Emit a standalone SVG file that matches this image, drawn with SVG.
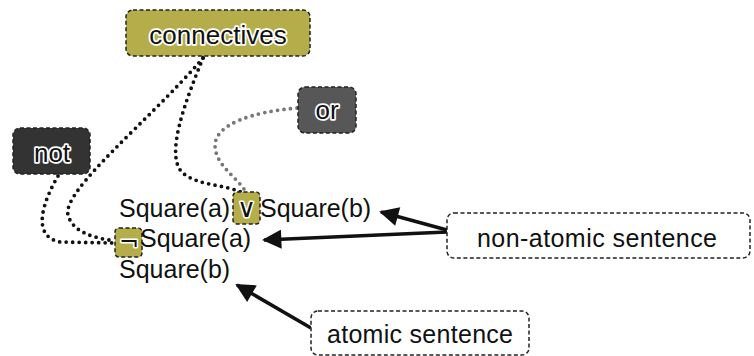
<svg xmlns="http://www.w3.org/2000/svg" width="754" height="356" viewBox="0 0 754 356">
<style>
.box{stroke:#222;stroke-width:1.5;stroke-dasharray:4 2.5}
.olive{fill:#b5ad4a}
.halo{font-family:"Liberation Sans",Arial,sans-serif;font-size:26px;fill:#111;stroke:#fff;stroke-width:3.5;paint-order:stroke;stroke-linejoin:round;text-anchor:middle}
.sym{font-family:"DejaVu Sans",sans-serif;fill:#111;stroke:#fff;stroke-width:3;paint-order:stroke;stroke-linejoin:round;text-anchor:middle}
.t{font-family:"Liberation Sans",Arial,sans-serif;font-size:25px;fill:#111}
.dots{fill:none;stroke:#111;stroke-width:3.8;stroke-linecap:round;stroke-dasharray:0 6.5}
.gdots{fill:none;stroke:#777;stroke-width:3.8;stroke-linecap:round;stroke-dasharray:0 6.5}
.arrow{fill:none;stroke:#111;stroke-width:3.5;marker-end:url(#ah)}
.lbl{fill:#fff}
</style>
<defs>
<marker id="ah" viewBox="0 0 10 10" refX="9" refY="5" markerWidth="6.5" markerHeight="5.5" orient="auto" markerUnits="strokeWidth">
<path d="M0,0 L10,5 L0,10 Z" fill="#111"/>
</marker>
</defs>
<rect width="754" height="356" fill="#fff"/>
<g id="connectors">
<path class="dots" d="M203,58 C150,120 62,190 68,215 C73,233 95,238 115,241"/>
<path class="dots" d="M203,58 C186,100 163,158 184,174 C200,186 224,184 243,193"/>
<path class="dots" d="M58,176 C44,200 30,236 60,242 L114,243"/>
<path class="gdots" d="M297,108 C252,112 216,124 215,145 C215,165 236,176 246,192"/>
<path class="arrow" d="M447,230 L381,212"/>
<path class="arrow" d="M447,232 L264,240"/>
<path class="arrow" d="M311,328 L237,285"/>
</g>
<g id="connectives">
<rect class="box olive" x="126" y="10" width="184" height="46" rx="7"/>
<text class="halo" x="218" y="44">connectives</text>
</g>
<g id="or">
<rect class="box" fill="#575757" x="298" y="87" width="58" height="46" rx="7"/>
<text class="halo" x="327" y="119">or</text>
</g>
<g id="not">
<rect class="box" fill="#333" x="13" y="128" width="77" height="46" rx="7"/>
<text class="halo" x="52" y="162">not</text>
</g>
<g id="sentences">
<rect class="box olive" x="233" y="192" width="27" height="32" rx="4"/>
<rect class="box olive" x="115" y="228" width="27" height="29" rx="4"/>
<text class="t" x="119" y="217">Square(a)</text>
<text class="sym" x="246.5" y="217" style="font-size:26px">∨</text>
<text class="t" x="260" y="217">Square(b)</text>
<text class="sym" x="129" y="250" style="font-size:24px">¬</text>
<text class="t" x="140" y="247">Square(a)</text>
<text class="t" x="119" y="278">Square(b)</text>
</g>
<g id="non-atomic">
<rect class="box lbl" x="447" y="213" width="303" height="45" rx="7"/>
<text class="t" x="477" y="247" textLength="240">non-atomic sentence</text>
</g>
<g id="atomic">
<rect class="box lbl" x="311" y="311" width="218" height="44" rx="7"/>
<text class="t" x="327" y="343" textLength="186">atomic sentence</text>
</g>
</svg>
